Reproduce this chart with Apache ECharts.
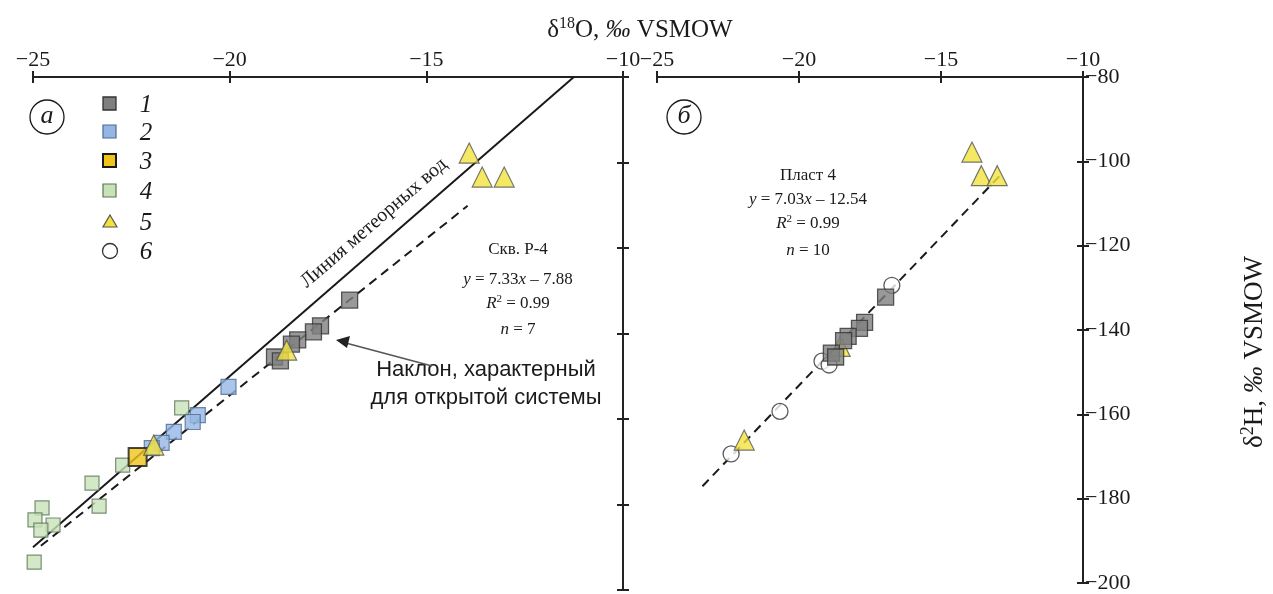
<!DOCTYPE html>
<html>
<head>
<meta charset="utf-8">
<title>δ18O – δ2H</title>
<script src="https://cdn.jsdelivr.net/npm/echarts@6/dist/echarts.min.js"></script>
<style>
  * { margin: 0; padding: 0 }
  html, body { width: 100%; height: 100%; background: #fff; }
  #chart { width: 1273px; height: 594px; }
</style>
</head>
<body>
<div id="chart"></div>
<script>
// axis ticks
const xTicks = [-25, -20, -15, -10];
const yTicks = [-200, -180, -160, -140, -120, -100, -80];

// 1 - grey squares
const group1 = [[-16.95, -132.2], [-17.69, -138.2], [-17.87, -139.6], [-18.27, -141.5],
                [-18.43, -142.5], [-18.86, -145.5], [-18.71, -146.4]];
// 2 - blue squares
const group2 = [[-20.03, -152.5], [-20.81, -159.1], [-20.94, -160.7], [-21.42, -163.0],
                [-21.73, -165.6], [-21.98, -166.8]];
// 3 - yellow square
const group3 = [[-22.34, -168.9]];
// 4 - green squares
const group4 = [[-21.22, -157.4], [-22.72, -170.8], [-23.50, -175.0], [-23.32, -180.4],
                [-24.77, -180.8], [-24.95, -183.6], [-24.49, -184.8], [-24.80, -186.0],
                [-24.97, -193.5]];
// 5 - triangles
const group5 = [[-13.91, -97.8], [-13.58, -103.4], [-13.02, -103.4], [-18.55, -143.9],
                [-21.93, -166.1]];
// 6 - circles (panel б)
const group6 = [[-16.73, -129.4], [-19.19, -147.4], [-18.94, -148.3], [-20.67, -159.3],
                [-22.39, -169.4]];

// lines: global meteoric water line and the two fits
const gmwl = { slope: 8, icept: 10, from: -25, to: -11.25 };
const fitA = { slope: 7.33, icept: -7.88, from: -24.8, to: -13.95 };
const fitB = { slope: 7.03, icept: -12.54, from: -23.4, to: -12.85 };

const lineData = l => [[l.from, l.slope * l.from + l.icept], [l.to, l.slope * l.to + l.icept]];
const minus = v => (v < 0 ? '−' : '') + Math.abs(v);

const FONT = '"Liberation Serif", "DejaVu Serif", serif';
const SANS = '"Liberation Sans", Arial, sans-serif';
const INK = '#1a1a1a';

const grids = [
  { left: 33, top: 77, width: 590, height: 513 },
  { left: 657, top: 77, width: 426, height: 513 }
];

const xAxisFor = (g, inner) => ({
  gridIndex: g, type: 'value', position: 'top', min: xTicks[0], max: xTicks[xTicks.length - 1], interval: 5,
  splitLine: { show: false },
  axisLine: { show: !inner, onZero: false, lineStyle: { color: '#222', width: 2 } },
  axisTick: { show: true, inside: inner, length: 6, lineStyle: { color: '#222', width: 2 } },
  axisLabel: { show: !inner, fontFamily: FONT, fontSize: 22, color: INK, margin: 6, formatter: minus }
});
const yAxisFor = (g, inner, labels) => ({
  gridIndex: g, type: 'value', position: 'right', min: yTicks[0], max: yTicks[yTicks.length - 1], interval: 20,
  splitLine: { show: false },
  axisLine: { show: !inner, onZero: false, lineStyle: { color: '#222', width: 2 } },
  axisTick: { show: true, inside: inner, length: 6, lineStyle: { color: '#222', width: 2 } },
  axisLabel: { show: labels && !inner, fontFamily: FONT, fontSize: 22, color: INK, margin: 2, formatter: minus }
});

const styles = {
  g1: { color: '#7f7f7f', borderColor: '#333', borderWidth: 1.3 },
  g2: { color: '#95b6e4', borderColor: '#4d6a93', borderWidth: 1.2 },
  g3: { color: '#f0c419', borderColor: '#1a1a1a', borderWidth: 2 },
  g4: { color: '#c8e2b8', borderColor: '#5b7458', borderWidth: 1.2 },
  g5: { color: '#f3e23e', borderColor: '#555', borderWidth: 1.2 },
  g6: { color: '#fff', borderColor: '#333', borderWidth: 1.3 }
};

const scatter = (idx, data, symbol, size, st, z) => ({
  type: 'scatter', xAxisIndex: idx, yAxisIndex: idx, data: data, symbol: symbol, symbolSize: size,
  itemStyle: st, z: z, silent: true
});
const line = (idx, data, dashed) => ({
  type: 'line', xAxisIndex: idx, yAxisIndex: idx, data: data, symbol: 'none', z: 1, silent: true,
  lineStyle: { color: '#1a1a1a', width: 2, type: dashed ? [9, 6] : 'solid' }
});

const txt = (x, y, text, size, extra, el) => Object.assign({
  type: 'text', x: x, y: y, silent: true,
  style: Object.assign({ text: text, fill: INK, fontFamily: FONT, fontSize: size, align: 'center', verticalAlign: 'middle',
    rich: {
      i: { fontStyle: 'italic', fontFamily: FONT, fontSize: size },
      sup: { fontFamily: FONT, fontSize: Math.round(size * 0.65), padding: [0, 0, Math.round(size * 0.5), 0] }
    } }, extra || {})
}, el || {});

// legend built from small shapes next to numbers
const legendRows = [
  { y: 104, label: '1', shape: 'rect', st: styles.g1 },
  { y: 132, label: '2', shape: 'rect', st: styles.g2 },
  { y: 161, label: '3', shape: 'rect', st: styles.g3 },
  { y: 191, label: '4', shape: 'rect', st: styles.g4 },
  { y: 222, label: '5', shape: 'tri', st: styles.g5 },
  { y: 251, label: '6', shape: 'circle', st: styles.g6 }
];
const legendEls = [];
legendRows.forEach(r => {
  const st = { fill: r.st.color, stroke: r.st.borderColor, lineWidth: r.st.borderWidth };
  if (r.shape === 'rect') legendEls.push({ type: 'rect', shape: { x: 103, y: r.y - 7, width: 13, height: 13 }, style: st });
  else if (r.shape === 'tri') legendEls.push({ type: 'polygon', shape: { points: [[110, r.y - 7], [117, r.y + 5], [103, r.y + 5]] }, style: st });
  else legendEls.push({ type: 'circle', shape: { cx: 110, cy: r.y, r: 7.5 }, style: st });
  legendEls.push(txt(146, r.y + 1, r.label, 25, { fontStyle: 'italic' }));
});

const chart = echarts.init(document.getElementById('chart'));
chart.setOption({
  animation: false,
  backgroundColor: '#fff',
  grid: grids,
  xAxis: [xAxisFor(0, false), xAxisFor(0, true), xAxisFor(1, false), xAxisFor(1, true)],
  yAxis: [yAxisFor(0, false, false), yAxisFor(0, true, false), yAxisFor(1, false, true), yAxisFor(1, true, false)],
  series: [
    line(0, lineData(gmwl), false),
    line(0, lineData(fitA), true),
    scatter(0, group4, 'rect', 14, styles.g4, 3),
    scatter(0, group2, 'rect', 15, styles.g2, 4),
    scatter(0, group1, 'rect', 16, styles.g1, 5),
    scatter(0, group3, 'rect', 18, styles.g3, 6),
    scatter(0, group5, 'triangle', 20, styles.g5, 7),

    line(2, lineData(fitB), true),
    scatter(2, group6, 'circle', 16, styles.g6, 3),
    scatter(2, group5, 'triangle', 20, styles.g5, 4),
    scatter(2, group1, 'rect', 16, styles.g1, 5)
  ],
  graphic: [
    // axis titles
    txt(640, 30, 'δ{sup|18}O, {i|‰} VSMOW', 25),
    txt(1255, 352, 'δ{sup|2}H, {i|‰} VSMOW', 27, {}, { rotation: Math.PI / 2 }),
    // panel letters
    { type: 'circle', shape: { cx: 47, cy: 117, r: 17 }, style: { fill: 'none', stroke: INK, lineWidth: 1.3 } },
    txt(47, 116, 'a', 26, { fontStyle: 'italic' }),
    { type: 'circle', shape: { cx: 684, cy: 117, r: 17 }, style: { fill: 'none', stroke: INK, lineWidth: 1.3 } },
    txt(684, 116, 'б', 26, { fontStyle: 'italic' }),
    // panel а notes
    txt(374, 223, 'Линия метеорных вод', 20, {}, { rotation: 41 * Math.PI / 180 }),
    txt(518, 250, 'Скв. Р-4', 17),
    txt(518, 280, '{i|y} = 7.33{i|x} – 7.88', 17),
    txt(518, 304, '{i|R}{sup|2} = 0.99', 17),
    txt(518, 330, '{i|n} = 7', 17),
    txt(486, 370, 'Наклон, характерный', 22, { fontFamily: SANS }),
    txt(486, 398, 'для открытой системы', 22, { fontFamily: SANS }),
    { type: 'line', shape: { x1: 432, y1: 366, x2: 342, y2: 342 }, style: { stroke: '#555', lineWidth: 1.5 } },
    { type: 'polygon', shape: { points: [[336, 340], [350, 336], [347, 348]] }, style: { fill: '#222' } },
    // panel б notes
    txt(808, 176, 'Пласт 4', 17),
    txt(808, 200, '{i|y} = 7.03{i|x} – 12.54', 17),
    txt(808, 224, '{i|R}{sup|2} = 0.99', 17),
    txt(808, 251, '{i|n} = 10', 17)
  ].concat(legendEls)
});
</script>
</body>
</html>
